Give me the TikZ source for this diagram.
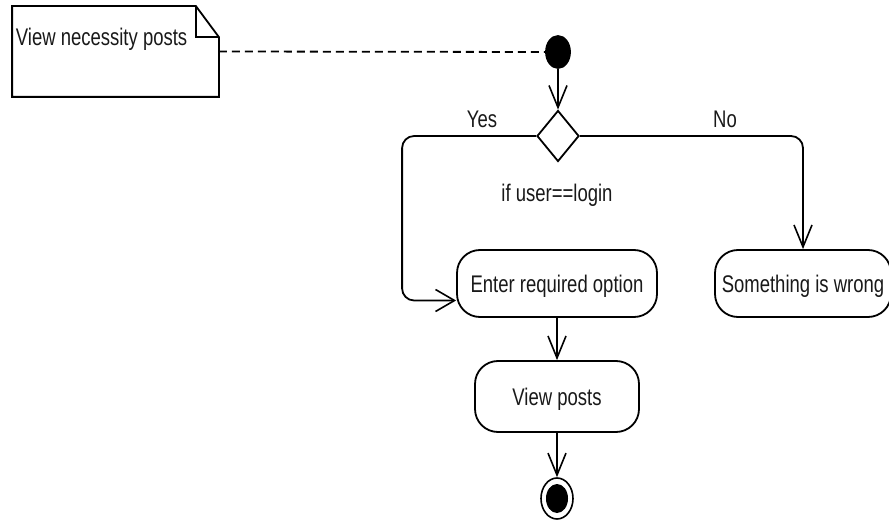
\documentclass[tikz,border=0pt]{standalone}
\usepackage{fontspec}
\setmainfont{Liberation Sans}
\usetikzlibrary{shapes.geometric,arrows.meta}
\newcommand\tallt[1]{\scalebox{1}[1.3]{#1}}
\begin{document}
\begin{tikzpicture}[x=1pt,y=-1pt,
  line width=1.8pt,
  lbl/.style={font=\fontsize{18.5}{20}\selectfont, inner sep=0pt, text depth=0pt, text=black!90},
  act/.style={draw, rounded corners=23pt, minimum height=67pt, inner sep=0pt, text depth=0pt, font=\fontsize{18.5}{20}\selectfont, text=black!90},
  flow/.style={-{Straight Barb[length=22pt,width=18pt,line width=1.6pt]}},
  hflow/.style={-{Straight Barb[length=19pt,width=22pt,line width=1.6pt]}},
 ]
\useasboundingbox (0,0) rectangle (889,521);
% note
\node[minimum width=205pt, minimum height=89pt, inner sep=0pt] (note) at (115.5,51.5) {};
\draw (note.north west) -- ([xshift=-23pt]note.north east) -- ([yshift=-31pt]note.north east)
  -- (note.south east) -- (note.south west) -- cycle;
\draw ([xshift=-23pt]note.north east) -- ++(0,31) -- ++(23,0);
\node[lbl, anchor=west] (notetext) at (15,37) {\tallt{View necessity posts}};
% start
\node[ellipse, fill=black, draw, minimum width=24pt, minimum height=32pt, inner sep=0pt] (start) at (558,52) {};
\draw[dashed, dash pattern=on 8pt off 5pt] (note.east) -- (start.west);
% decision
\node[diamond, draw, minimum width=42pt, minimum height=51pt, inner sep=0pt] (dec) at (558,136) {};
\node[lbl] (yes) at (482,119) {\tallt{Yes}};
\node[lbl] (no) at (725,119) {\tallt{No}};
\node[lbl] (cond) at (557,193) {\tallt{if user==login}};
% activities
\node[act, minimum width=200pt] (enter) at (557,283.5) {\tallt{Enter required option}};
\node[act, minimum width=176pt] (wrong) at (803,283.5) {\tallt{Something is wrong}};
\node[act, minimum width=164pt, minimum height=71pt] (view) at (557,396.5) {\tallt{View posts}};
% final
\node[ellipse, draw, line width=1.6pt, minimum width=32pt, minimum height=41pt, inner sep=0pt] (final) at (557,498.5) {};
\node[ellipse, fill=black, minimum width=22pt, minimum height=29pt, inner sep=0pt] (finalin) at (final.center) {};
% flows
\draw[flow] (start.south) -- (dec.north);
\draw[hflow, rounded corners=12pt] (dec.west) -| ([xshift=-54pt,yshift=-17pt]enter.west) -- ([yshift=-17pt]enter.west);
\draw[flow, rounded corners=12pt] (dec.east) -| (wrong.north);
\draw[flow] (enter.south) -- (view.north);
\draw[flow] (view.south) -- (final.north);
\end{tikzpicture}
\end{document}
